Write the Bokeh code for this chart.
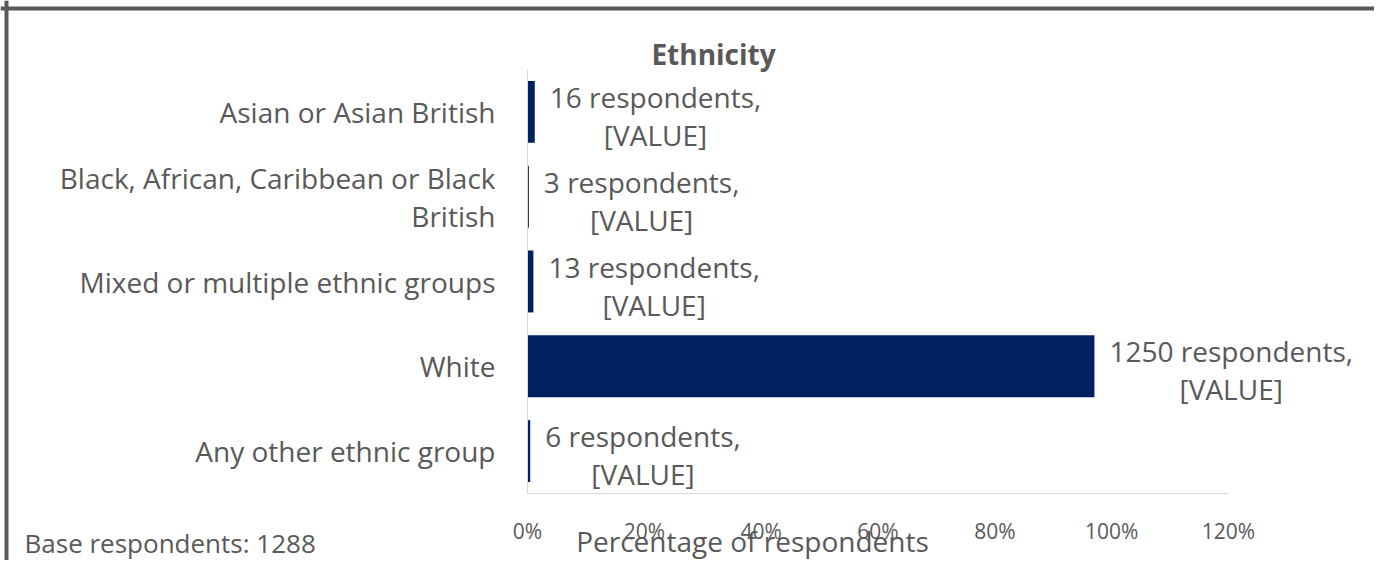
from bokeh.plotting import figure
from bokeh.models import (ColumnDataSource, Range1d, FixedTicker,
                          NumeralTickFormatter, Label, Span)
from bokeh.core.properties import value
from bokeh.embed import file_html
from bokeh.resources import INLINE

# ---- data ----
categories = ["Asian or Asian British",
              "Black, African, Caribbean or Black British",
              "Mixed or multiple ethnic groups",
              "White",
              "Any other ethnic group"]
category_labels = ["Asian or Asian British",
                   "Black, African, Caribbean or Black\nBritish",
                   "Mixed or multiple ethnic groups",
                   "White",
                   "Any other ethnic group"]
respondents = [16, 3, 13, 1250, 6]
base_respondents = 1288
x_ticks = [0, 0.2, 0.4, 0.6, 0.8, 1.0, 1.2]
title_text = "Ethnicity"
x_title = "Percentage of respondents"
base_text = "Base respondents: 1288"

n = len(categories)
pct = [r / base_respondents for r in respondents]
ypos = [n - 1 - i for i in range(n)]          # first category on top
labels = [f"{r} respondents,\n[VALUE]" for r in respondents]

FONT = "Open Sans"
GREY = "#595959"
NAVY = "#002060"
AXIS = "#D9D9D9"

# ---- layout (canvas pixels) ----
W, H = 1374, 560
PL, PR, PT, PB = 527, 1228, 69, 493          # plot area inside the canvas
xmin, xmax = 0.0, 1.2
sx = (PR - PL) / (xmax - xmin)
sy = (PB - PT) / n
y_lo, y_hi = -0.5, n - 0.5
x_range = Range1d(xmin - PL / sx, xmax + (W - PR) / sx)
y_range = Range1d(y_lo - (H - PB) / sy, y_hi + PT / sy)

src = ColumnDataSource(dict(y=ypos, pct=pct, label=labels))

p = figure(width=W, height=H, output_backend="svg", toolbar_location=None,
           x_range=x_range, y_range=y_range,
           min_border=0, min_border_left=0, min_border_right=0,
           min_border_top=0, min_border_bottom=0)
p.outline_line_color = None
p.xgrid.grid_line_color = None
p.ygrid.grid_line_color = None
p.background_fill_color = "white"
p.border_fill_color = "white"

p.hbar(y="y", right="pct", left=0, height=0.73, source=src,
       fill_color=NAVY, line_color=None)

p.text(x="pct", y="y", text="label", source=src,
       anchor="center_left", text_align="center", text_baseline="middle",
       x_offset=15, y_offset=4,
       text_font=value(FONT), text_font_size="28px", text_color=GREY,
       text_line_height=1.0)

# x axis
xa = p.xaxis[0]
xa.fixed_location = y_lo
xa.bounds = (xmin, xmax)
xa.ticker = FixedTicker(ticks=x_ticks)
xa.formatter = NumeralTickFormatter(format="0%")
xa.axis_line_color = AXIS
xa.major_tick_line_color = None
xa.minor_tick_line_color = None
xa.major_label_standoff = 17
xa.major_label_text_font = FONT
xa.major_label_text_font_size = "21px"
xa.major_label_text_color = GREY

# y axis
ya = p.yaxis[0]
ya.fixed_location = xmin
ya.bounds = (y_lo, y_hi)
ya.ticker = FixedTicker(ticks=ypos)
ya.major_label_overrides = {y: lab for y, lab in zip(ypos, category_labels)}
ya.axis_line_color = AXIS
ya.major_tick_line_color = None
ya.minor_tick_line_color = None
ya.major_label_standoff = 26
ya.major_label_text_font = FONT
ya.major_label_text_font_size = "28px"
ya.major_label_text_color = GREY
ya.major_label_text_line_height = 1.0

# chart border (top and left only are visible in the reference)
dx = (x_range.end - x_range.start) / W
dy = (y_range.end - y_range.start) / H
p.add_layout(Span(location=x_range.start + 6 * dx, dimension="height",
                  line_color=GREY, line_width=4))
p.add_layout(Span(location=y_range.end - 8 * dy, dimension="width",
                  line_color=GREY, line_width=4))

# title, axis title, base note (screen units from canvas bottom-left)
p.add_layout(Label(x=713, y=H - 53, x_units="screen", y_units="screen",
                   text=title_text, text_align="center", text_baseline="middle",
                   text_font=FONT, text_font_size="28px", text_font_style="bold",
                   text_color=GREY))
p.add_layout(Label(x=752, y=H - 540, x_units="screen", y_units="screen",
                   text=x_title, text_align="center", text_baseline="middle",
                   text_font=FONT, text_font_size="28px", text_color=GREY))
p.add_layout(Label(x=24, y=H - 542, x_units="screen", y_units="screen",
                   text=base_text, text_align="left", text_baseline="middle",
                   text_font=FONT, text_font_size="26px", text_color=GREY))

open("out.html", "w").write(file_html(p, INLINE))
